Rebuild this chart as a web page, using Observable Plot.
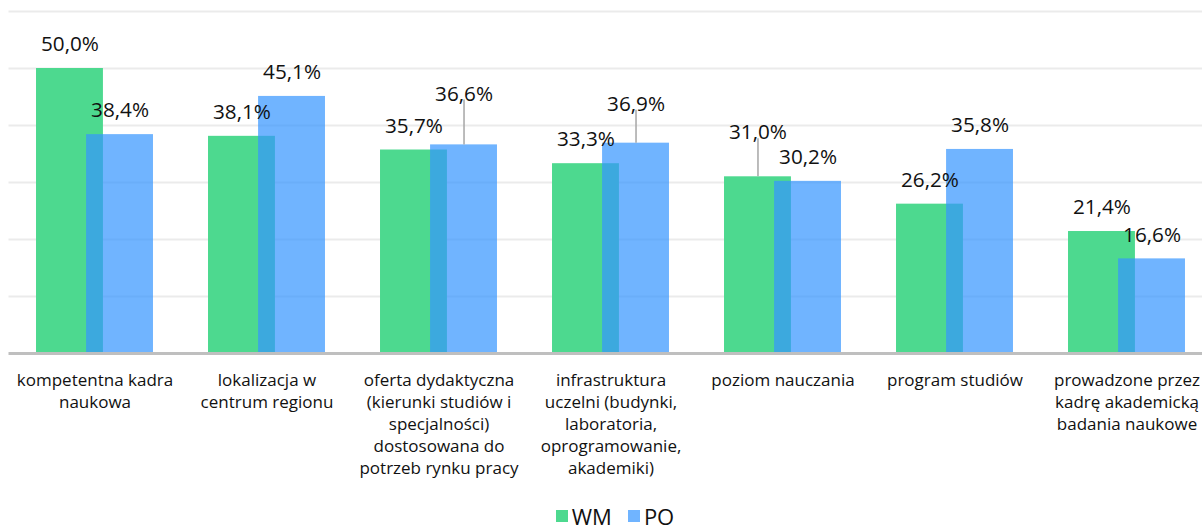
<!DOCTYPE html>
<html>
<head>
<meta charset="utf-8">
<script src="https://cdn.jsdelivr.net/npm/d3@7"></script>
<script src="https://cdn.jsdelivr.net/npm/@observablehq/plot@0.6"></script>
<style>
  html, body { margin: 0; padding: 0; background: #fff; }
  #chart { width: 1202px; height: 504px; }
  .legend { display: flex; justify-content: center; align-items: center; height: 24px; width: 1202px; line-height: 22px;
    font-family: "Open Sans", sans-serif; font-size: 22px; color: #111; padding-left: 28px; box-sizing: border-box; }
  .legend .sw { width: 12px; height: 12px; display: inline-block; margin-right: 4px; }
  .legend .item { display: flex; align-items: center; margin: 0 8px; line-height: 22px; height: 22px; }
</style>
</head>
<body>
<div id="chart"></div>
<script>
// ---- data ----
const categories = [
  "kompetentna kadra\nnaukowa",
  "lokalizacja w\ncentrum regionu",
  "oferta dydaktyczna\n(kierunki studiów i\nspecjalności)\ndostosowana do\npotrzeb rynku pracy",
  "infrastruktura\nuczelni (budynki,\nlaboratoria,\noprogramowanie,\nakademiki)",
  "poziom nauczania",
  "program studiów",
  "prowadzone przez\nkadrę akademicką\nbadania naukowe"
];
const seriesNames = ["WM", "PO"];
const wmValues = [50.0, 38.1, 35.7, 33.3, 31.0, 26.2, 21.4];
const poValues = [38.4, 45.1, 36.6, 36.9, 30.2, 35.8, 16.6];
const gridTicks = [0, 10, 20, 30, 40, 50, 60];

// ---- layout config (label lifts in px for labels moved up with leader lines) ----
const liftWM = [0, 0, 0, 0, 20, 0, 0];
const liftPO = [0, 0, 27, 15, 0, 0, 0];

const colors = {WM: "#4dd98f", PO: "#3695ff"};
const fmt = v => v.toFixed(1).replace(".", ",") + "%";

const H = 504, plotTop = 11, plotBottom = 353;
const pxPerUnit = (plotBottom - plotTop) / 60;

const rows = [];
categories.forEach((c, i) => {
  rows.push({i, s: "WM", v: wmValues[i], x1: i - 0.340, x2: i + 0.049, xc: i - 0.1455, lift: liftWM[i] / pxPerUnit});
  rows.push({i, s: "PO", v: poValues[i], x1: i - 0.049, x2: i + 0.340, xc: i + 0.1455, lift: liftPO[i] / pxPerUnit});
});
const lifted = rows.filter(d => d.lift > 0);

const font = "'Open Sans', sans-serif";

const chart = Plot.plot({
  width: 1202,
  height: H,
  marginTop: plotTop,
  marginBottom: H - plotBottom,
  marginLeft: 8.5,
  marginRight: 0,
  style: {fontFamily: font, background: "#fff"},
  x: {type: "linear", domain: [-0.5, 6.5 - 10.5 / 172], axis: null},
  y: {domain: [0, 60], axis: null},
  marks: [
    Plot.ruleY(gridTicks.filter(t => t > 0), {stroke: "#ebebeb", strokeWidth: 2}),
    Plot.rectY(rows.filter(d => d.s === "WM"), {x1: "x1", x2: "x2", y1: 0, y2: "v", fill: colors.WM}),
    Plot.rectY(rows.filter(d => d.s === "PO"), {x1: "x1", x2: "x2", y1: 0, y2: "v", fill: colors.PO, fillOpacity: 0.71}),
    Plot.ruleY([0], {stroke: "#bfbfbf", strokeWidth: 3}),
    Plot.ruleX(lifted, {x: "xc", y1: "v", y2: d => d.v + d.lift + 18 / pxPerUnit, stroke: "#a6a6a6", strokeWidth: 1.5}),
    Plot.text(rows, {x: "xc", y: d => d.v + d.lift, text: d => fmt(d.v), dy: -24, fontSize: 20.7, fill: "#111", textAnchor: "middle"}),
    Plot.axisX({ticks: d3.range(categories.length), tickFormat: i => categories[i], tickSize: 0, tickPadding: 17,
      fontSize: 17, lineHeight: 22 / 17, fill: "#111", label: null, textAnchor: "middle"})
  ]
});
document.getElementById("chart").appendChild(chart);

const legend = document.createElement("div");
legend.className = "legend";
seriesNames.forEach(s => {
  const it = document.createElement("span");
  it.className = "item";
  const sw = document.createElement("span");
  sw.className = "sw";
  sw.style.background = s === "PO" ? "rgba(54,149,255,0.71)" : colors[s];
  it.appendChild(sw);
  it.appendChild(document.createTextNode(s));
  legend.appendChild(it);
});
document.body.appendChild(legend);
</script>
</body>
</html>
